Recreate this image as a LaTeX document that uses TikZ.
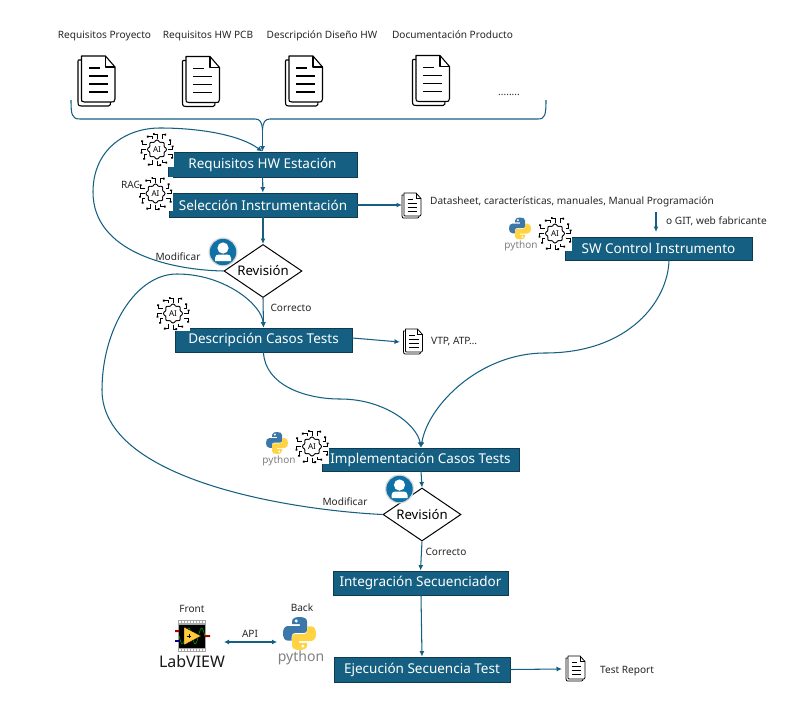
\documentclass[tikz,border=0pt]{standalone}
\usepackage{fontspec}
\setmainfont{Noto Sans}
\usetikzlibrary{arrows.meta,shapes.geometric}
\definecolor{boxblue}{HTML}{156082}
\definecolor{boxedge}{HTML}{0F3A50}
\definecolor{pyblue}{HTML}{3B77A8}
\definecolor{pyyellow}{HTML}{FFD343}
\definecolor{usr}{HTML}{0E72A6}
\tikzset{
  flowbox/.style={draw=boxedge,line width=0.8pt,fill=boxblue,text=white,inner sep=0pt,font=\fontsize{13.5}{15}\selectfont},
  decision/.style={diamond,draw=black,line width=1pt,fill=white,inner sep=0pt,aspect=1.5,minimum width=78pt,minimum height=53pt,font=\fontsize{13.2}{15}\selectfont},
  conn/.style={draw=boxblue,line width=1.05pt,-{Latex[length=5.5pt,width=5pt]}},
  plainconn/.style={draw=boxblue,line width=1.05pt},
  lbl/.style={inner sep=0pt,text=black!85,font=\fontsize{10.1}{12}\selectfont},
  doc/.pic={
    \draw[black,line width=1.1pt,line join=round,fill=white] (-15,-21) -- (-18,-21) .. controls (-18.5,-21) and (-18.5,-21) .. (-18.5,-20) -- (-18.5,21) .. controls (-18.5,25) and (-17,25) .. (-15,25) -- (12,25) .. controls (14,25) and (14,23) .. (14,21);
    \draw[black,line width=1.1pt,line join=round,fill=white] (-15,-25) -- (9,-25) -- (18.5,-14) -- (18.5,18) .. controls (18.5,21) and (17,21) .. (15,21) -- (-12,21) .. controls (-15,21) and (-15,20) .. (-15,18) -- cycle;
    \draw[black,line width=1.1pt,line join=round] (9,-25) -- (9,-14) -- (18.5,-14);
    \draw[black,line width=1.1pt] (-8,-13) -- (3,-13) (-8,-5) -- (11,-5) (-8,3) -- (11,3) (-8,11) -- (11,11);
  },
  smalldoc/.pic={
    \draw[black,line width=0.8pt,line join=round,fill=white] (-7.5,-10.5) -- (-9.5,-10.5) -- (-9.5,10.5) .. controls (-9.5,12.5) and (-8.5,12.5) .. (-7.5,12.5) -- (6,12.5) .. controls (7,12.5) and (7.5,11.5) .. (7.5,10.5);
    \draw[black,line width=0.8pt,line join=round,fill=white] (-7.5,-12.5) -- (4.5,-12.5) -- (9.5,-7) -- (9.5,9) .. controls (9.5,10.5) and (8.5,10.5) .. (7.5,10.5) -- (-6,10.5) .. controls (-7.5,10.5) and (-7.5,10) .. (-7.5,9) -- cycle;
    \draw[black,line width=0.6pt] (4.5,-12.5) -- (4.5,-7) -- (9.5,-7);
    \draw[black,line width=0.7pt] (-4,-6.5) -- (1.5,-6.5) (-4,-2.5) -- (5.5,-2.5) (-4,1.5) -- (5.5,1.5) (-4,5.5) -- (5.5,5.5);
  },
  aiicon/.pic={
    \fill[white] (-17,-17) rectangle (17,17);
    \draw[black,line width=0.9pt] plot[smooth cycle,samples=40,domain=0:351] ({(8.7+0.9*cos(8*\x))*cos(\x)},{(8.7+0.9*cos(8*\x))*sin(\x)});
    \node[inner sep=0pt,font=\bfseries\fontsize{8}{8}\selectfont] at (0,0) {AI};
    \foreach \r in {0,90,180,270}{
      \begin{scope}[rotate=\r]
        \draw[black,line width=0.9pt] (-5,-10.5) -- (-5,-13) -- (-9,-13) (0,-11) -- (0,-16) (0,-15.5) -- (-3,-15.5) (5,-10.5) -- (5,-15) -- (8,-15);
        \fill[black] (-10.2,-14) rectangle (-8.5,-12) (-4,-16.5) rectangle (-2.4,-14.6) (7.5,-16) rectangle (9.2,-14);
      \end{scope}
    }
  },
  pysnake/.pic={
    \foreach \r/\c in {0/pyblue,180/pyyellow}{
      \begin{scope}[rotate=\r]
        \fill[\c] (-5,-8) .. controls (-5,-10.5) and (-2,-11) .. (0,-11) .. controls (3,-11) and (5,-10) .. (5,-8) -- (5,-2.2) .. controls (5,-1) and (4,-0.4) .. (3,-0.4) -- (-3,-0.4) .. controls (-4.5,-0.4) and (-5.2,0.8) .. (-5.2,2) -- (-5.2,4.8) -- (-7.5,4.8) .. controls (-10,4.8) and (-11,2.5) .. (-11,0) .. controls (-11,-3) and (-10,-5) .. (-7.5,-5) -- (0.2,-5) -- (0.2,-6.2) -- (-5,-6.2) -- cycle;
        \fill[white] (-2.2,-8.4) circle (1.1);
      \end{scope}
    }
  },
  usericon/.pic={
    \fill[black!15] (0,0) circle (14.5);
    \fill[usr] (0,0) circle (13.2);
    \fill[white] (0,-4) circle (5.6);
    \fill[white] (-8,9) -- (-8,6) .. controls (-8,3.5) and (-6,2.5) .. (-4,2.5) -- (4,2.5) .. controls (6,2.5) and (8,3.5) .. (8,6) -- (8,9) -- cycle;
  },
  lvicon/.pic={
    \fill[black!35] (-14,-16) rectangle (14,16);
    \foreach \i in {0,...,8}{
      \fill[white] (-13+3*\i,-15) rectangle (-11.4+3*\i,-13);
      \fill[white] (-13+3*\i,13) rectangle (-11.4+3*\i,15);
    }
    \fill[black] (-13,-11.5) rectangle (13,11.5);
    \draw[green!60!black,line width=0.6pt] plot[smooth,domain=-13:13,samples=30] (\x,{8*sin(28*\x)});
    \fill[pyyellow!90!orange,draw=black,line width=0.3pt] (-8,-9) -- (9,0) -- (-8,9) -- cycle;
    \draw[black,line width=0.8pt] (-5,0) -- (-1,0) (-3,-2) -- (-3,2);
    \fill[red!70!black] (-17,-6) rectangle (-13,-4) (13,-1) rectangle (18,1);
    \fill[blue!70!black] (-17,4) rectangle (-13,6);
  },
}
\begin{document}
\begin{tikzpicture}[x=1pt,y=-1pt]
\useasboundingbox (0,0) rectangle (811,707);
\fill[white] (0,0) rectangle (811,707);

% labels on top
\node[lbl] (t1) at (104.5,36) {Requisitos Proyecto};
\node[lbl] (t2) at (208,36) {Requisitos HW PCB};
\node[lbl] (t3) at (322,36) {Descripción Diseño HW};
\node[lbl] (t4) at (452.5,35) {Documentación Producto};
\node[lbl] (dots) at (509,95) {........};

% boxes
\node[flowbox,minimum width=189pt,minimum height=25pt] (b1) at (262.5,164.5) {Requisitos HW Estación};
\node[flowbox,minimum width=188pt,minimum height=24pt] (b2) at (263,205) {Selección Instrumentación};
\node[decision] (d1) at (263,271) {Revisión};
\node[flowbox,minimum width=177pt,minimum height=24pt] (b3) at (263.5,340) {Descripción Casos Tests};
\node[flowbox,minimum width=187pt,minimum height=23pt] (sw) at (658.5,248.5) {SW Control Instrumento};
\node[flowbox,minimum width=197pt,minimum height=23pt] (b4) at (420.5,459.5) {Implementación Casos Tests};
\node[decision] (d2) at (422,514.5) {Revisión};
\node[flowbox,minimum width=175pt,minimum height=24pt] (b5) at (420.5,583) {Integración Secuenciador};
\node[flowbox,minimum width=176pt,minimum height=25pt] (b6) at (422,669.5) {Ejecución Secuencia Test};

% bracket
\coordinate (bl) at (71,100);
\coordinate (br) at (546,100);
\draw[plainconn] (bl) .. controls (71,115) and (72,119) .. (80,119) -- (255,119) .. controls (260,119) and (262,122) .. (262.5,130);
\draw[plainconn] (br) .. controls (546,115) and (545,119) .. (538,119) -- (270,119) .. controls (265,119) and (263,122) .. (262.5,130);
\draw[conn] (262.5,130) -- (b1.north);

% flow
\draw[conn] (b1) -- (b2);
\draw[conn] (b2) -- (d1);
\draw[conn] (d1.south) -- (b3.north);
\draw[conn] ([xshift=0.5pt]b4.south) -- (d2.north);
\draw[conn] (d2.south) -- (b5.north);
\draw[conn] ([xshift=0.5pt]b5.south) -- (b6.north);

% loops
\draw[conn] (d1.west) .. controls (170,270) and (93,252) .. (93,192) .. controls (93,150) and (125,128) .. (160,128) .. controls (200,128) and (240,135) .. (b1.north);
\draw[conn] (d2.west) .. controls (290,510) and (102,480) .. (102,390) .. controls (102,330) and (135,274) .. (177,274) .. controls (225,274) and (262,305) .. (b3.north);

% merge curves
\draw[conn] (b3.south) .. controls (265,385) and (305,399) .. (340,399) .. controls (385,399) and (417,425) .. ([xshift=0.5pt]b4.north);
\draw[conn] ([xshift=10.5pt]sw.south) .. controls (668,300) and (630,353) .. (545,353) .. controls (480,353) and (428,405) .. ([xshift=0.5pt]b4.north);

% documents
\pic at (96.5,81) {doc};
\pic at (201,81.5) {doc};
\pic at (304,81) {doc};
\pic at (431,80.5) {doc};
\pic at (411.5,205.5) {smalldoc};
\pic at (413,341.5) {smalldoc};
\pic at (575.5,668.5) {smalldoc};
\coordinate (dAin) at (402,205);
\coordinate (dBin) at (400,342);
\coordinate (dCin) at (562,669);
\draw[conn] (b2.east) -- (dAin);
\draw[conn] ([yshift=2pt]b3.east) -- (dBin);
\draw[conn] (b6.east) -- (dCin);

% side texts
\node[lbl,anchor=west] (dsT) at (430,202) {Datasheet, características, manuales, Manual Programación};
\node[lbl,anchor=west] (gitT) at (666,221) {o GIT, web fabricante};
\coordinate (gitS) at (656,212);
\draw[conn] (gitS) -- (656,232);
\node[lbl,anchor=west] (vtp) at (431,342) {VTP, ATP…};
\node[lbl,anchor=west] (rep) at (600,671) {Test Report};
\node[lbl] (rag) at (131,185) {RAG};
\node[lbl] (m1) at (178,257) {Modificar};
\node[lbl] (m2) at (345,502) {Modificar};
\node[lbl] (c1) at (291,308) {Correcto};
\node[lbl] (c2) at (446,552) {Correcto};

% AI icons
\pic at (157,149.5) {aiicon};
\pic at (155.5,193.5) {aiicon};
\pic at (173,313.5) {aiicon};
\pic at (555,233.5) {aiicon};
\pic at (312,446.5) {aiicon};

% user icons
\pic at (223,252) {usericon};
\pic at (399.5,489) {usericon};

% python
\pic at (520,228.5) {pysnake};
\node[inner sep=0pt,text=black!50,font=\fontsize{10}{12}\selectfont] (py1) at (521,246) {python};
\pic at (277,443) {pysnake};
\node[inner sep=0pt,text=black!50,font=\fontsize{10}{12}\selectfont] (py2) at (279,461) {python};
\pic[scale=1.5] at (299.5,633.5) {pysnake};
\node[inner sep=0pt,text=black!50,font=\fontsize{14}{15}\selectfont] (py3) at (301,658) {python};

% labview
\pic at (192,636) {lvicon};
\node[inner sep=0pt,text=black!90,font=\fontsize{16}{17}\selectfont] (lv) at (192,661) {LabVIEW};
\node[lbl] (front) at (192,609) {Front};
\node[lbl] (back) at (302,608) {Back};
\node[lbl] (api) at (250,634) {API};
\coordinate (apiL) at (224,642);
\coordinate (apiR) at (277,642);
\draw[plainconn,{Latex[length=5pt,width=5pt]}-{Latex[length=5pt,width=5pt]}] (apiL) -- (apiR);
\end{tikzpicture}
\end{document}
